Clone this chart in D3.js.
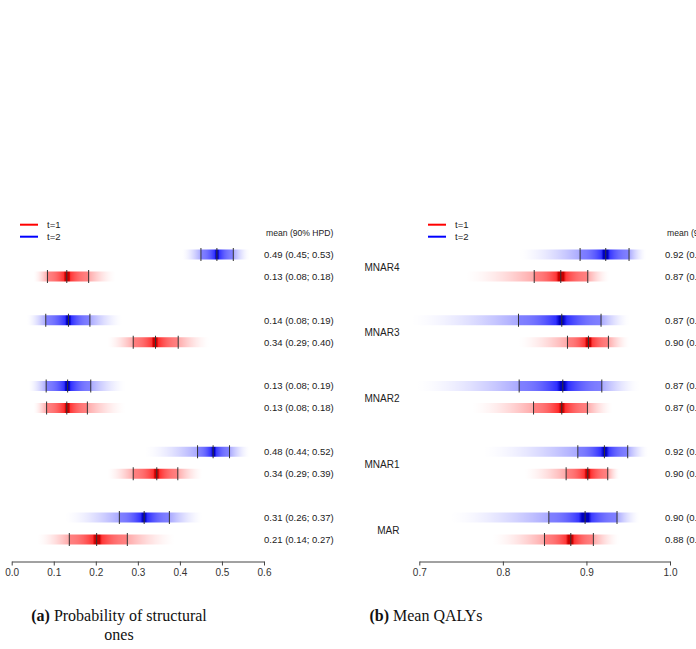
<!DOCTYPE html>
<html>
<head>
<meta charset="utf-8">
<script src="https://cdn.jsdelivr.net/npm/d3@7"></script>
<style>
  body { margin: 0; background: #ffffff; }
  svg { display: block; font-family: "Liberation Sans", Arial, sans-serif; }
  .axis path, .axis line { stroke: #444; }
  .axis text { fill: #333; font-size: 10px; font-family: "Liberation Sans", Arial, sans-serif; }
  .caption { font-family: "Liberation Serif", "DejaVu Serif", serif; font-size: 16px; fill: #111; }
</style>
</head>
<body>
<div id="chart"></div>
<script>
// Groups top to bottom, and the two time points
const groups = ["MNAR4", "MNAR3", "MNAR2", "MNAR1", "MAR"];
const times = ["t=1", "t=2"];

// (a) Probability of structural ones: [lower, mean, upper] per group
const probT1 = [[0.085, 0.131, 0.183], [0.289, 0.342, 0.396], [0.083, 0.131, 0.180], [0.289, 0.345, 0.395], [0.137, 0.202, 0.275]];
const probT2 = [[0.450, 0.488, 0.527], [0.081, 0.135, 0.186], [0.082, 0.133, 0.188], [0.442, 0.479, 0.518], [0.256, 0.315, 0.375]];
// how far the density strip fades out: [min, max]
const probT1Tails = [[0.051, 0.249], [0.226, 0.472], [0.051, 0.273], [0.226, 0.455], [0.059, 0.392]];
const probT2Tails = [[0.404, 0.567], [0.035, 0.265], [0.039, 0.273], [0.313, 0.567], [0.123, 0.456]];
const probT1Labels = ["0.13 (0.08; 0.18)", "0.34 (0.29; 0.40)", "0.13 (0.08; 0.18)", "0.34 (0.29; 0.39)", "0.21 (0.14; 0.27)"];
const probT2Labels = ["0.49 (0.45; 0.53)", "0.14 (0.08; 0.19)", "0.13 (0.08; 0.19)", "0.48 (0.44; 0.52)", "0.31 (0.26; 0.37)"];
const probTicks = [0, 0.1, 0.2, 0.3, 0.4, 0.5, 0.6];

// (b) Mean QALYs
const qalyT1 = [[0.8375, 0.8693, 0.9016], [0.8773, 0.9024, 0.9263], [0.8367, 0.8705, 0.9012], [0.8757, 0.9016, 0.9255], [0.8498, 0.8813, 0.9083]];
const qalyT2 = [[0.8924, 0.9231, 0.9510], [0.8187, 0.8705, 0.9175], [0.8195, 0.8717, 0.9184], [0.8897, 0.9215, 0.9494], [0.8550, 0.8984, 0.9366]];
const qalyT1Tails = [[0.753, 0.928], [0.817, 0.952], [0.761, 0.932], [0.824, 0.940], [0.785, 0.940]];
const qalyT2Tails = [[0.817, 0.972], [0.686, 0.952], [0.693, 0.964], [0.773, 0.974], [0.733, 0.964]];
const qalyT1Labels = ["0.87 (0.84; 0.90)", "0.90 (0.88; 0.93)", "0.87 (0.84; 0.90)", "0.90 (0.88; 0.93)", "0.88 (0.85; 0.91)"];
const qalyT2Labels = ["0.92 (0.89; 0.95)", "0.87 (0.82; 0.92)", "0.87 (0.82; 0.92)", "0.92 (0.89; 0.95)", "0.90 (0.86; 0.94)"];
const qalyTicks = [0.7, 0.8, 0.9, 1.0];

const colors = { "t=1": ["#ff0000", "#c80000"], "t=2": ["#0000ff", "#0000c0"] };

const width = 696, height = 649;
const svg = d3.select("#chart").append("svg")
    .attr("width", width)
    .attr("height", height);
svg.append("rect").attr("width", width).attr("height", height).attr("fill", "#fff");
const defs = svg.append("defs");

// groups share the same vertical layout in both panels
const yGroup = d3.scalePoint().domain(groups).range([265.5, 528.5]);
const yTime = d3.scalePoint().domain(["t=2", "t=1"]).range([-11, 11]);
const axisY = 561.5;

let gradId = 0;

// opacity of the strip at value v
function stripOpacity(v, r, tail) {
    const [lo, m, hi] = r;
    if (v < lo) return 0.34 * Math.pow(Math.max(0, (v - tail[0]) / (lo - tail[0])), 1.7);
    if (v > hi) return 0.34 * Math.pow(Math.max(0, (tail[1] - v) / (tail[1] - hi)), 1.7);
    const t = v < m ? (v - lo) / (m - lo) : (hi - v) / (hi - m);
    return 0.5 + 0.42 * t * t;
}

function drawStrip(g, x, r, tail, y, time) {
    const id = "grad" + (gradId++);
    const [c, cDark] = colors[time];
    const grad = defs.append("linearGradient")
        .attr("id", id)
        .attr("gradientUnits", "userSpaceOnUse")
        .attr("x1", x(tail[0])).attr("x2", x(tail[1]))
        .attr("y1", 0).attr("y2", 0);
    const span = tail[1] - tail[0];
    const off = v => (v - tail[0]) / span;
    const stops = [];
    const n = 60;
    for (let i = 0; i <= n; i++) {
        const v = tail[0] + span * i / n;
        if (Math.abs(v - r[0]) < span / n / 2 || Math.abs(v - r[2]) < span / n / 2) continue;
        stops.push(v);
    }
    stops.push(r[0] - 1e-6, r[0], r[1], r[2], r[2] + 1e-6);
    stops.sort((a, b) => a - b);
    const halfW = (r[2] - r[0]) / 2;
    stops.forEach(v => {
        const near = Math.abs(v - r[1]) < halfW * 0.12;
        grad.append("stop")
            .attr("offset", Math.min(1, Math.max(0, off(v))))
            .attr("stop-color", near ? cDark : c)
            .attr("stop-opacity", near ? 1 : stripOpacity(v, r, tail));
    });

    g.append("rect")
        .attr("x", x(tail[0]))
        .attr("width", x(tail[1]) - x(tail[0]))
        .attr("y", y - 5)
        .attr("height", 10)
        .attr("fill", `url(#${id})`);

    g.selectAll(null)
        .data(r)
        .enter().append("line")
        .attr("x1", d => x(d)).attr("x2", d => x(d))
        .attr("y1", y - 6.5).attr("y2", y + 6.5)
        .attr("stroke", "#333")
        .attr("stroke-width", 1);
}

function drawPanel(opt) {
    const g = svg.append("g");
    const x = d3.scaleLinear().domain(opt.domain).range(opt.range);

    opt.series.forEach(s => {
        groups.forEach((grp, i) => {
            const y = yGroup(grp) + yTime(s.time);
            drawStrip(g, x, s.values[i], s.tails[i], y, s.time);
            g.append("text")
                .attr("x", opt.labelX)
                .attr("y", y)
                .attr("dy", "0.35em")
                .attr("font-size", "9.5px")
                .attr("fill", "#222")
                .text(s.labels[i]);
        });
    });

    g.append("text")
        .attr("x", opt.labelX + 2)
        .attr("y", 233)
        .attr("dy", "0.35em")
        .attr("font-size", "8.6px")
        .attr("fill", "#222")
        .text("mean (90% HPD)");

    if (opt.groupLabels) {
        g.selectAll(".grp")
            .data(groups)
            .enter().append("text")
            .attr("x", opt.groupX)
            .attr("y", d => yGroup(d) + 1.5)
            .attr("dy", "0.35em")
            .attr("text-anchor", "end")
            .attr("font-size", "10px")
            .attr("fill", "#222")
            .text(d => d);
    }

    // legend
    const leg = g.append("g").attr("transform", `translate(${opt.legendX},224.7)`);
    times.forEach((t, i) => {
        leg.append("line")
            .attr("x1", 0).attr("x2", 18)
            .attr("y1", i * 12).attr("y2", i * 12)
            .attr("stroke", colors[t][0])
            .attr("stroke-width", 2);
        leg.append("text")
            .attr("x", 27).attr("y", i * 12)
            .attr("dy", "0.35em")
            .attr("font-size", "9.5px")
            .attr("fill", "#222")
            .text(t);
    });

    g.append("g")
        .attr("class", "axis")
        .attr("transform", `translate(0,${axisY})`)
        .call(d3.axisBottom(x).tickValues(opt.ticks).tickFormat(d3.format(".1f")).tickSize(4).tickSizeOuter(0))
        .call(a => a.select(".domain").attr("stroke", "#444"));
}

drawPanel({
    domain: [0, 0.6], range: [11.7, 264], ticks: probTicks,
    labelX: 264, legendX: 20, groupLabels: false,
    series: [
        { time: "t=2", values: probT2, tails: probT2Tails, labels: probT2Labels },
        { time: "t=1", values: probT1, tails: probT1Tails, labels: probT1Labels }
    ]
});

drawPanel({
    domain: [0.7, 1.0], range: [419.3, 670], ticks: qalyTicks,
    labelX: 665, legendX: 428, groupLabels: true, groupX: 399.5,
    series: [
        { time: "t=2", values: qalyT2, tails: qalyT2Tails, labels: qalyT2Labels },
        { time: "t=1", values: qalyT1, tails: qalyT1Tails, labels: qalyT1Labels }
    ]
});

// captions
const capA = svg.append("text").attr("class", "caption")
    .attr("x", 119).attr("y", 621).attr("text-anchor", "middle");
capA.append("tspan").attr("font-weight", "bold").text("(a)");
capA.append("tspan").text(" Probability of structural");
svg.append("text").attr("class", "caption")
    .attr("x", 119).attr("y", 640).attr("text-anchor", "middle")
    .text("ones");

const capB = svg.append("text").attr("class", "caption")
    .attr("x", 426).attr("y", 621).attr("text-anchor", "middle");
capB.append("tspan").attr("font-weight", "bold").text("(b)");
capB.append("tspan").text(" Mean QALYs");
</script>
</body>
</html>
